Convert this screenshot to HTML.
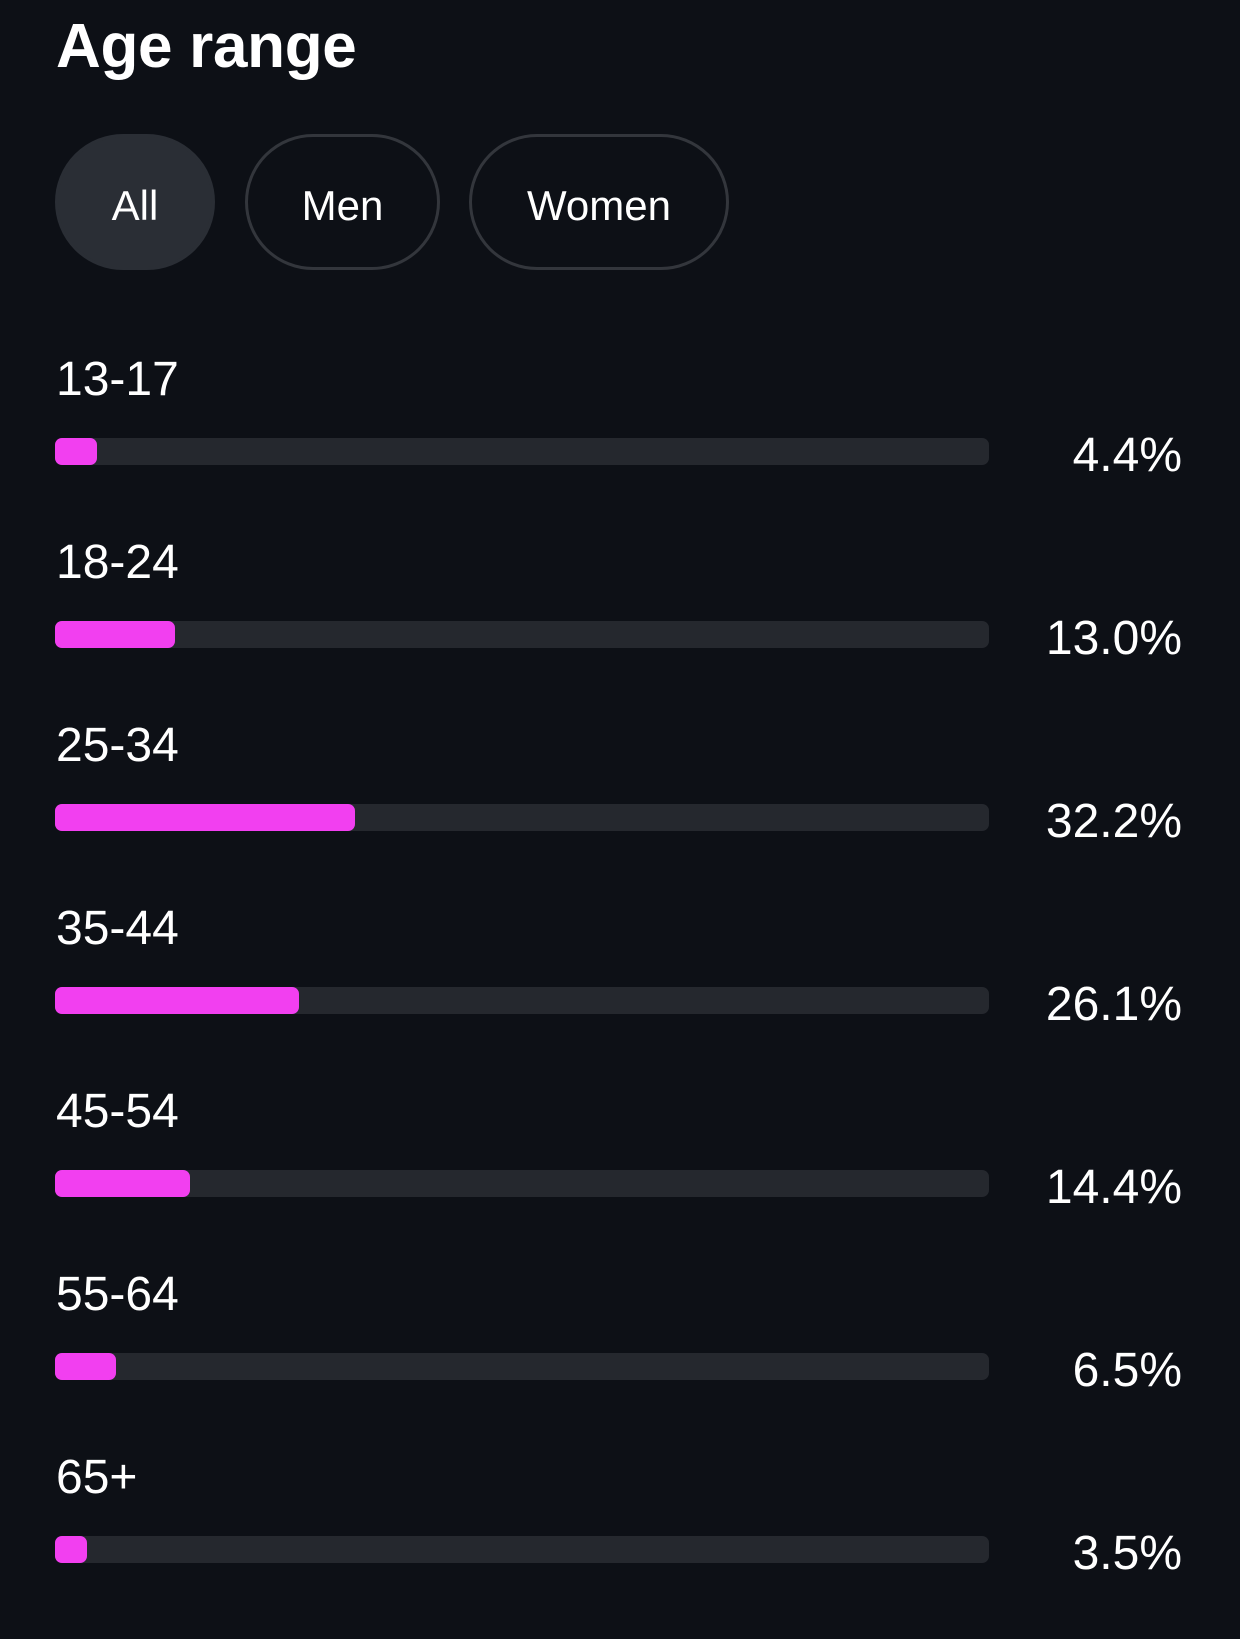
<!DOCTYPE html>
<html><head><meta charset="utf-8"><style>
body{margin:0;width:1240px;height:1639px;background:#0d1016;font-family:"Liberation Sans",sans-serif;color:#fff;position:relative;overflow:hidden}
.t{position:absolute;left:56px;top:11px;font-size:62px;font-weight:bold;letter-spacing:-0.3px}
.p{position:absolute;top:134px;height:136px;border:3px solid #33363c;border-radius:70px;box-sizing:border-box;font-size:42px;display:flex;align-items:center;justify-content:center;padding-top:8px}
.l{position:absolute;left:56px;font-size:48px;line-height:1}
.tr{position:absolute;left:55px;width:934px;height:27px;background:#25282e;border-radius:7px}
.f{height:100%;background:#f23ff0;border-radius:7px}
.v{position:absolute;right:58px;font-size:48px;line-height:1}
</style></head><body>
<div class="t">Age range</div>
<div class="p" style="left:55px;width:160px;background:#2a2e35;border-color:#2a2e35">All</div>
<div class="p" style="left:245px;width:195px">Men</div>
<div class="p" style="left:469px;width:260px">Women</div>

<div class="l" style="top:356px">13-17</div><div class="tr" style="top:438px"><div class="f" style="width:42px"></div></div><div class="v" style="top:432px">4.4%</div>
<div class="l" style="top:539px">18-24</div><div class="tr" style="top:621px"><div class="f" style="width:120px"></div></div><div class="v" style="top:615px">13.0%</div>
<div class="l" style="top:722px">25-34</div><div class="tr" style="top:804px"><div class="f" style="width:300px"></div></div><div class="v" style="top:798px">32.2%</div>
<div class="l" style="top:905px">35-44</div><div class="tr" style="top:987px"><div class="f" style="width:244px"></div></div><div class="v" style="top:981px">26.1%</div>
<div class="l" style="top:1088px">45-54</div><div class="tr" style="top:1170px"><div class="f" style="width:135px"></div></div><div class="v" style="top:1164px">14.4%</div>
<div class="l" style="top:1271px">55-64</div><div class="tr" style="top:1353px"><div class="f" style="width:61px"></div></div><div class="v" style="top:1347px">6.5%</div>
<div class="l" style="top:1454px">65+</div><div class="tr" style="top:1536px"><div class="f" style="width:32px"></div></div><div class="v" style="top:1530px">3.5%</div>
</body></html>
